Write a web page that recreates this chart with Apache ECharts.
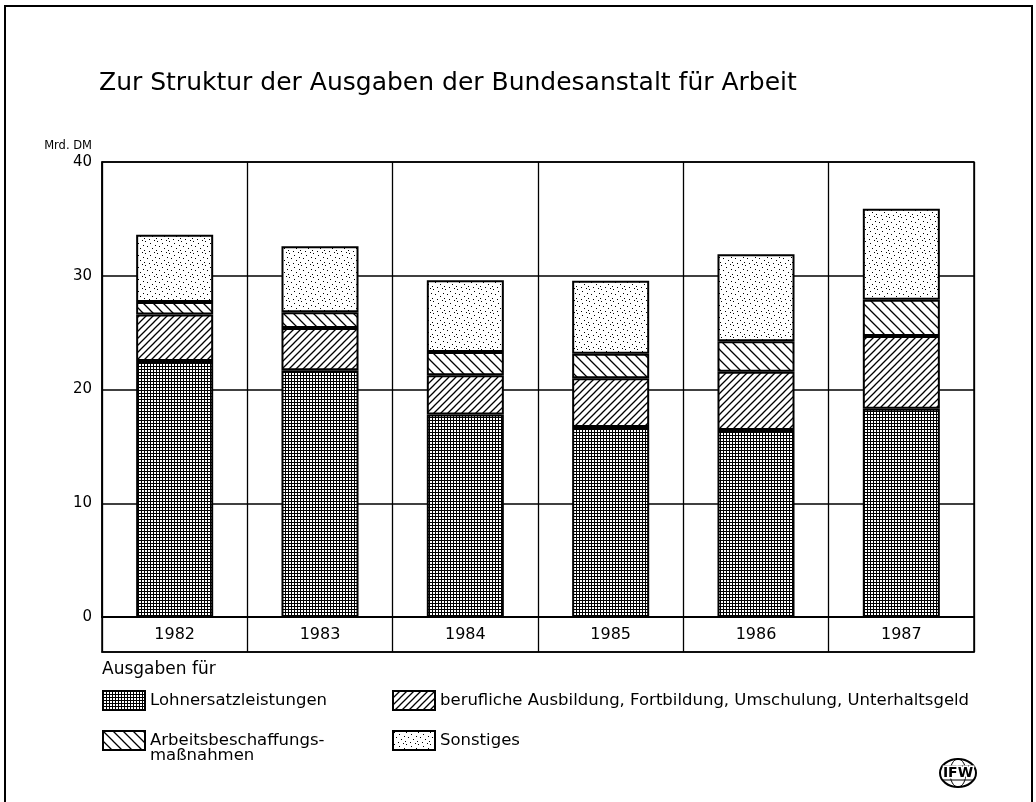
<!DOCTYPE html>
<html>
<head>
<meta charset="utf-8">
<title>Zur Struktur der Ausgaben der Bundesanstalt für Arbeit</title>
<script src="https://cdn.jsdelivr.net/npm/echarts@6/dist/echarts.min.js"></script>
<style>
  html, body { margin: 0; padding: 0; background: #fff; }
  #main { width: 1036px; height: 802px; }
</style>
</head>
<body>
<div id="main"></div>
<script>
// Daten (Mrd. DM)
var years = ['1982', '1983', '1984', '1985', '1986', '1987'];
var lohnersatz = [22.5, 21.7, 17.8, 16.7, 16.45, 18.3];
var ausbildung = [4.1, 3.7, 3.45, 4.3, 5.1, 6.4];
var abm = [1.1, 1.4, 2.05, 2.15, 2.7, 3.2];
var sonstiges = [5.9, 5.8, 6.3, 6.4, 7.65, 8.0];
var yTicks = [0, 10, 20, 30, 40];

var FONT = 'DejaVu Sans';

// Schraffuren als Canvas-Muster
function pattern(w, h, draw) {
  var c = document.createElement('canvas');
  c.width = w;
  c.height = h;
  var ctx = c.getContext('2d');
  ctx.fillStyle = '#fff';
  ctx.fillRect(0, 0, w, h);
  ctx.strokeStyle = '#000';
  ctx.fillStyle = '#000';
  draw(ctx, w, h);
  return { image: c, repeat: 'repeat' };
}

// feines Gitter
var gridPat = pattern(3, 3, function (ctx) {
  ctx.fillRect(0, 0, 3, 1);
  ctx.fillRect(0, 0, 1, 3);
});

// Schraffur "/"
var slashPat = pattern(7, 7, function (ctx, w, h) {
  ctx.lineWidth = 1.3;
  ctx.beginPath();
  ctx.moveTo(-1, h + 1); ctx.lineTo(w + 1, -1);
  ctx.moveTo(-1, 1); ctx.lineTo(1, -1);
  ctx.moveTo(w - 1, h + 1); ctx.lineTo(w + 1, h - 1);
  ctx.stroke();
});

// Schraffur "\"
var backPat = pattern(10, 10, function (ctx, w, h) {
  ctx.lineWidth = 1.3;
  ctx.beginPath();
  ctx.moveTo(-1, -1); ctx.lineTo(w + 1, h + 1);
  ctx.moveTo(w - 1, -1); ctx.lineTo(w + 1, 1);
  ctx.moveTo(-1, h - 1); ctx.lineTo(1, h + 1);
  ctx.stroke();
});

// Punktraster
var dotPat = pattern(12, 12, function (ctx) {
  var pts = [[1, 1], [6, 3], [10, 0], [3, 6], [8, 8], [0, 10], [5, 11], [11, 5]];
  pts.forEach(function (p) { ctx.fillRect(p[0], p[1], 1, 1); });
});

var names = [
  'Lohnersatzleistungen',
  'berufliche Ausbildung, Fortbildung, Umschulung, Unterhaltsgeld',
  'Arbeitsbeschaffungsmaßnahmen',
  'Sonstiges'
];

function barSeries(name, data, fill) {
  return {
    name: name,
    type: 'bar',
    stack: 'total',
    barWidth: '53%',
    data: data,
    itemStyle: { color: fill, borderColor: '#000', borderWidth: 2 },
    emphasis: { disabled: true }
  };
}

var myChart = echarts.init(document.getElementById('main'));

var legendCommon = {
  orient: 'vertical',
  icon: 'rect',
  padding: 0,
  itemWidth: 42,
  itemHeight: 19,
  itemGap: 19,
  selectedMode: false,
  itemStyle: { borderColor: '#000', borderWidth: 2 },
  textStyle: { fontFamily: FONT, fontSize: 16.5, color: '#000' },
  formatter: function (n) {
    return n === names[2] ? 'Arbeitsbeschaffungs-' : n;
  }
};

var option = {
  backgroundColor: '#fff',
  animation: false,
  title: [
    {
      text: 'Zur Struktur der Ausgaben der Bundesanstalt für Arbeit',
      left: 94,
      top: 66,
      textStyle: { fontFamily: FONT, fontSize: 25, fontWeight: 'normal', color: '#000' }
    },
    {
      text: 'Ausgaben für',
      left: 97,
      top: 656,
      textStyle: { fontFamily: FONT, fontSize: 17, fontWeight: 'normal', color: '#000' }
    }
  ],
  legend: [
    Object.assign({}, legendCommon, { left: 102, top: 690, data: [names[0], names[2]] }),
    Object.assign({}, legendCommon, { left: 392, top: 690, data: [names[1], names[3]] })
  ],
  grid: [
    { left: 102, right: 62, top: 162, height: 455, show: true, borderColor: '#000', borderWidth: 1.5 },
    { left: 102, right: 62, top: 617, height: 35, show: true, borderColor: '#000', borderWidth: 1.5 }
  ],
  xAxis: [
    {
      type: 'category',
      gridIndex: 0,
      data: years,
      axisTick: { show: false },
      axisLine: { lineStyle: { color: '#000', width: 2 } },
      axisLabel: { margin: 10, fontFamily: FONT, fontSize: 16, color: '#000' },
      splitLine: { show: true, lineStyle: { color: '#000', width: 1.3 } }
    },
    {
      type: 'category',
      gridIndex: 1,
      data: years,
      axisTick: { show: false },
      axisLabel: { show: false },
      axisLine: { lineStyle: { color: '#000', width: 1.5 } },
      splitLine: { show: true, lineStyle: { color: '#000', width: 1.3 } }
    }
  ],
  yAxis: [
    {
      type: 'value',
      gridIndex: 0,
      min: 0,
      max: 40,
      interval: 10,
      name: 'Mrd. DM',
      nameLocation: 'end',
      nameGap: 10,
      nameTextStyle: { fontFamily: FONT, fontSize: 11.5, color: '#000', align: 'right', padding: [0, 10, 0, 0] },
      axisLine: { show: true, lineStyle: { color: '#000', width: 1.5 } },
      axisTick: { show: false },
      axisLabel: {
        margin: 10,
        fontFamily: FONT,
        fontSize: 15,
        color: '#000',
        formatter: function (v) { return yTicks.indexOf(v) >= 0 ? String(v) : ''; }
      },
      splitLine: { show: true, lineStyle: { color: '#000', width: 1.5 } }
    },
    { type: 'value', gridIndex: 1, show: false, min: 0, max: 1 }
  ],
  series: [
    barSeries(names[0], lohnersatz, gridPat),
    barSeries(names[1], ausbildung, slashPat),
    barSeries(names[2], abm, backPat),
    barSeries(names[3], sonstiges, dotPat)
  ],
  graphic: [
    {
      type: 'rect',
      z: -10,
      shape: { x: 5, y: 6, width: 1027, height: 830 },
      style: { fill: 'none', stroke: '#000', lineWidth: 2 }
    },
    {
      type: 'text',
      left: 150,
      top: 747,
      style: { text: 'maßnahmen', fontFamily: FONT, fontSize: 16.5, fill: '#000' }
    },
    {
      type: 'group',
      x: 958,
      y: 773,
      children: [
        { type: 'ellipse', shape: { cx: 0, cy: 0, rx: 18, ry: 14 }, style: { fill: '#fff', stroke: '#000', lineWidth: 2 } },
        { type: 'ellipse', shape: { cx: 0, cy: 0, rx: 8, ry: 14 }, style: { fill: 'none', stroke: '#000', lineWidth: 1 } },
        { type: 'line', shape: { x1: -16, y1: -7, x2: 16, y2: -7 }, style: { stroke: '#000', lineWidth: 1 } },
        { type: 'line', shape: { x1: -16, y1: 7, x2: 16, y2: 7 }, style: { stroke: '#000', lineWidth: 1 } },
        {
          type: 'text',
          style: {
            text: 'IFW', x: 0, y: 0, align: 'center', verticalAlign: 'middle',
            fontFamily: FONT, fontSize: 14, fontWeight: 'bold', fill: '#000',
            stroke: '#fff', lineWidth: 3
          }
        }
      ]
    }
  ]
};

myChart.setOption(option);
</script>
</body>
</html>
